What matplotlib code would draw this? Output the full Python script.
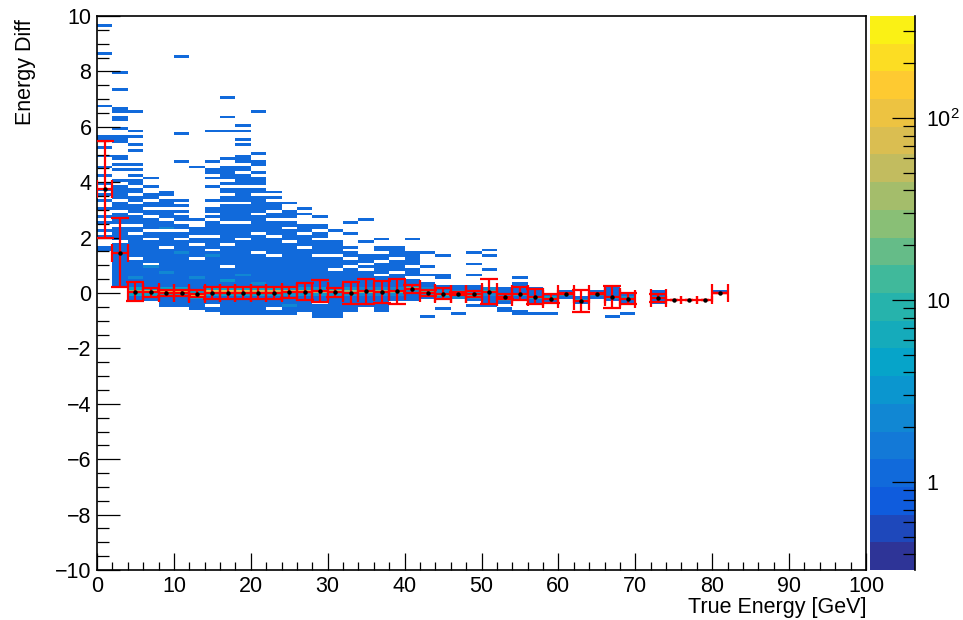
import matplotlib.pyplot as plt
import numpy as np
from matplotlib.colors import LinearSegmentedColormap, ListedColormap, BoundaryNorm
from matplotlib.ticker import MultipleLocator, FixedLocator, LogLocator, NullFormatter

plt.rcParams['font.family'] = ['Liberation Sans', 'DejaVu Sans']
plt.rcParams['mathtext.fontset'] = 'custom'
plt.rcParams['mathtext.rm'] = 'Liberation Sans'
plt.rcParams['mathtext.it'] = 'Liberation Sans:italic'

# histogram binning
n_xbins, x_lo, x_hi = 50, 0.0, 100.0
n_ybins, y_lo, y_hi = 200, -10.0, 10.0
z_min, z_max = 0.328, 363.0
n_contours = 20

# densely filled band (single entries) in each true-energy bin
band_bottom = [np.nan, 0.2, -0.25, -0.3, -0.45, -0.5, -0.6, -0.65, -0.8, -0.8,
               -0.8, -0.8, -0.75, -0.65, -0.9, -0.9, -0.65, -0.5, -0.65, -0.3,
               -0.3, -0.2, -0.2, -0.2, -0.3, -0.45, -0.4, -0.25, -0.35, -0.4,
               -0.1, -0.35, -0.1, -0.1, -0.35, np.nan, -0.35]
band_top = [np.nan, 4.0, 4.0, 3.5, 3.3, 2.75, 2.3, 3.0, 4.3, 4.9,
            4.1, 3.2, 2.9, 2.4, 2.4, 1.8, 1.45, 1.3, 1.6, 1.6,
            1.45, 0.35, 0.2, 0.25, 0.2, 0.05, 0.1, 0.3, 0.1, -0.05,
            0.05, -0.15, 0.05, 0.25, -0.05, np.nan, 0.0]

# empty rows inside the band: (true energy, energy diff)
gap_cells = [
    (3, 3.9), (3, 3.3), (3, 2.9), (3, 2.4), (3, 1.8),
    (5, 3.8), (5, 3.5), (5, 3.2), (5, 2.8), (5, 2.4), (5, 2.1), (5, 1.2),
    (7, 3.3), (7, 3.0), (7, 2.7), (7, 2.2), (7, 1.9), (7, 1.0),
    (9, 3.0), (9, 2.6), (9, 2.2), (9, 1.6),
    (11, 2.5), (11, 2.2), (11, 1.9), (11, 1.4),
    (13, 2.0), (13, 1.7), (13, 1.2),
    (15, 2.8), (15, 2.6), (15, 2.0), (15, 1.5), (15, -0.5),
    (17, 4.0), (17, 3.8), (17, 3.5), (17, 3.2), (17, 2.5), (17, 1.7), (17, 0.9),
    (19, 4.6), (19, 4.3), (19, 3.8), (19, 3.2), (19, 2.5), (19, 1.9),
    (21, 3.8), (21, 3.5), (21, 2.8), (21, 2.1), (21, 1.4),
    (23, 2.9), (23, 2.6), (23, 2.0), (23, 1.3), (23, -0.6),
    (25, 2.6), (25, 2.3), (25, 1.8),
    (27, 2.1), (27, 1.6),
    (29, 2.2), (29, 1.9), (29, 1.3), (29, -0.4),
    (31, 1.3), (31, 0.8),
    (33, 1.2), (33, 0.9),
    (35, 1.0), (35, 0.8),
    (37, 1.4), (37, 1.1), (37, 0.6),
    (39, 1.2), (39, 0.7),
    (41, 0.9), (41, 0.5),
]

# isolated single entries outside the band
stray_cells = [
    (1, 9.6), (1, 8.6), (1, 6.7), (1, 5.6), (1, 5.5), (1, 5.2), (1, 4.9), (1, 4.5),
    (1, 4.2), (1, 3.9), (1, 3.7), (1, 3.5), (1, 3.3), (1, 3.0), (1, 2.7), (1, 2.5),
    (1, 2.2), (1, 2.0), (1, 1.6), (1, 1.5),
    (3, 7.9), (3, 7.3), (3, 6.6), (3, 6.5), (3, 6.3), (3, 6.2), (3, 5.9), (3, 5.6),
    (3, 5.5), (3, 5.4), (3, 4.9), (3, 4.8), (3, 4.6), (3, 4.4),
    (5, 6.5), (5, 5.8), (5, 5.6), (5, 5.3), (5, 5.1), (5, 4.6), (5, 4.4), (5, 4.2),
    (7, 4.15), (7, 3.8), (9, 3.6), (9, 3.5),
    (11, 8.5), (11, 5.7), (11, 4.75), (11, 3.3), (11, 3.1), (11, 2.9),
    (13, 4.5), (13, 2.6),
    (15, 5.8), (15, 4.75), (15, 4.45), (15, 4.3), (15, 4.1), (15, 3.8), (15, 3.3),
    (17, 7.05), (17, 6.35), (17, 5.8), (17, 4.85), (17, 4.55), (17, 4.45),
    (19, 6.05), (19, 5.8), (19, 5.5), (19, 5.3),
    (21, 6.5), (21, 5.05), (21, 4.75), (21, 4.6), (21, 4.3),
    (23, 3.6), (23, 3.4), (25, 3.2), (27, 3.0), (27, 2.8), (29, 2.7), (31, 2.2),
    (33, 2.55), (33, 2.1), (33, 1.65), (35, 2.6), (35, 1.85), (37, 1.9),
    (41, 1.9), (41, 1.13),
    (43, 1.44), (43, 0.9), (43, 0.6), (43, -0.85),
    (45, 1.33), (45, 0.6), (45, 0.5), (45, -0.6), (47, -0.73),
    (49, 1.44), (49, 1.07), (49, 0.6), (49, -0.5),
    (51, 1.5), (51, 1.3), (51, 0.8),
    (53, -0.6), (53, -0.7), (55, 0.55), (55, -0.7), (55, -0.8),
    (57, -0.8), (59, -0.8), (67, -0.85), (69, -0.73),
]

# cells holding a few entries inside the band: (true energy, energy diff, entries)
multi_cells = [
    (5, 0.55, 2), (7, 0.95, 2), (9, 0.75, 2), (11, 1.45, 2), (13, 0.55, 2),
    (17, 0.45, 3), (21, 0.35, 2), (25, -0.45, 2), (9, 2.3, 2), (15, 1.3, 2),
    (19, 0.6, 2), (27, -0.3, 2),
]

# profile: mean energy diff per true-energy bin
prof_x = [1, 3, 5, 7, 9, 11, 13, 15, 17, 19, 21, 23, 25, 27, 29, 31, 33, 35, 37, 39,
          41, 43, 45, 47, 49, 51, 53, 55, 57, 59, 61, 63, 65, 67, 69, 73, 75, 77, 79, 81]
prof_y = [3.75, 1.45, 0.05, 0.02, 0.0, 0.0, -0.02, 0.0, 0.0, 0.0,
          0.0, 0.0, 0.02, 0.05, 0.07, 0.02, 0.0, 0.07, 0.05, 0.07,
          0.15, 0.0, -0.02, -0.02, -0.03, 0.05, -0.13, -0.02, -0.13, -0.2,
          -0.02, -0.28, -0.02, -0.13, -0.2, -0.18, -0.27, -0.27, -0.27, 0.0]
prof_err = [1.75, 1.25, 0.35, 0.15, 0.12, 0.12, 0.12, 0.2, 0.2, 0.2,
            0.2, 0.2, 0.2, 0.3, 0.4, 0.15, 0.4, 0.45, 0.4, 0.45,
            0.15, 0.12, 0.2, 0.05, 0.12, 0.45, 0.1, 0.25, 0.27, 0.15,
            0.02, 0.4, 0.02, 0.4, 0.2, 0.15, 0.0, 0.0, 0.0, 0.0]
# entries in the row of each profile mean and in the rows just next to it
peak_n = [1, 1, 30, 60, 80, 90, 90, 80, 80, 70, 60, 60, 50, 45, 40, 35, 30, 25, 22, 20,
          16, 14, 12, 12, 10, 8, 8, 6, 6, 5, 4, 4, 3, 3, 3, 2, 1, 1, 1, 1]
shoulder_n = [0, 0, 4, 5, 5, 5, 5, 4, 4, 4, 4, 4, 3, 3, 3, 3, 3, 2, 2, 2,
              2, 2, 2, 2, 2, 2, 2, 1, 1, 1, 1, 1, 1, 1, 1, 1, 0, 0, 0, 0]

# ROOT kBird palette
bird_r = [0.2082, 0.0592, 0.0780, 0.0232, 0.1802, 0.5301, 0.8186, 0.9956, 0.9764]
bird_g = [0.1664, 0.3599, 0.5041, 0.6419, 0.7178, 0.7492, 0.7328, 0.7862, 0.9832]
bird_b = [0.5293, 0.8684, 0.8385, 0.7914, 0.6425, 0.4662, 0.3499, 0.1968, 0.0539]

dy = (y_hi - y_lo) / n_ybins
dx = (x_hi - x_lo) / n_xbins


def xbin(x):
    return int((x - x_lo) // dx)


def ybin(y):
    return int(np.floor((y - y_lo) / dy + 1e-6))


counts = np.zeros((n_ybins, n_xbins))
for ix, (lo, hi) in enumerate(zip(band_bottom, band_top)):
    if np.isnan(lo):
        continue
    counts[ybin(lo):ybin(hi) + 1, ix] = 1
for x, y in gap_cells:
    counts[ybin(y), xbin(x)] = 0
for x, y in stray_cells:
    counts[ybin(y), xbin(x)] = 1
for x, y, n in multi_cells:
    counts[ybin(y), xbin(x)] = n
for x, y, n, s in zip(prof_x, prof_y, peak_n, shoulder_n):
    iy, ix = ybin(y), xbin(x)
    counts[iy, ix] = max(counts[iy, ix], n)
    for j in (iy - 1, iy + 1):
        if s:
            counts[j, ix] = max(counts[j, ix], s)

stops = np.linspace(0, 1, len(bird_r))
bird = LinearSegmentedColormap.from_list(
    'bird', [(s, (r, g, b)) for s, r, g, b in zip(stops, bird_r, bird_g, bird_b)])
levels = np.logspace(np.log10(z_min), np.log10(z_max), n_contours + 1)
band_cmap = ListedColormap(bird((np.arange(n_contours) + 0.5) / n_contours))
norm = BoundaryNorm(levels, n_contours)

fig = plt.figure(figsize=(9.63, 6.2), dpi=100)
ax = fig.add_axes([97 / 963, 50 / 620, 769 / 963, 554 / 620])

x_edges = np.linspace(x_lo, x_hi, n_xbins + 1)
y_edges = np.linspace(y_lo, y_hi, n_ybins + 1)
ax.pcolormesh(x_edges, y_edges, np.ma.masked_equal(counts, 0),
              cmap=band_cmap, norm=norm, zorder=1)

# profile overlay: full-width x bars, caps on both bars
px = np.array(prof_x, dtype=float)
py = np.array(prof_y)
pe = np.array(prof_err)
flat = np.isin(px, [75, 77, 79])
style = dict(fmt='o', color='red', ecolor='red', mfc='black', mec='black',
             ms=2.2, elinewidth=1.6, capthick=1.6, zorder=3)
ax.errorbar(px[~flat], py[~flat], xerr=1.0, yerr=pe[~flat], capsize=6.5, **style)
ax.errorbar(px[flat], py[flat], xerr=1.0, yerr=pe[flat], capsize=3.0, **style)

ax.set_xlim(x_lo, x_hi)
ax.set_ylim(y_lo, y_hi)
ax.xaxis.set_major_locator(MultipleLocator(10))
ax.xaxis.set_minor_locator(MultipleLocator(2))
ax.yaxis.set_major_locator(MultipleLocator(2))
ax.yaxis.set_minor_locator(MultipleLocator(0.5))
ax.tick_params(axis='x', which='major', direction='in', length=12, width=0.9,
               labelsize=15.5, pad=4, top=False)
ax.tick_params(axis='x', which='minor', direction='in', length=6, width=0.9, top=False)
ax.tick_params(axis='y', which='major', direction='in', length=16.5, width=0.9,
               labelsize=15.5, pad=4, right=False)
ax.tick_params(axis='y', which='minor', direction='in', length=8.3, width=0.9, right=False)
for sp in ax.spines.values():
    sp.set_linewidth(1.2)

fig.text(866 / 963, 1 - 607 / 620, 'True Energy [GeV]', ha='right', va='center',
         fontsize=15.5)
fig.text(26 / 963, 1 - 19 / 620, 'Energy Diff', ha='center', va='top',
         rotation=90, fontsize=15.5)

# palette axis
cax = fig.add_axes([870 / 963, 50 / 620, 45 / 963, 554 / 620])
cax.set_yscale('log')
cax.pcolormesh([0, 1], levels, (np.arange(n_contours) + 0.5).reshape(-1, 1),
               cmap=band_cmap, vmin=0, vmax=n_contours)
cax.set_ylim(z_min, z_max)
cax.set_xlim(0, 1)
cax.set_xticks([])
for side in ('top', 'left', 'bottom'):
    cax.spines[side].set_visible(False)
cax.spines['right'].set_linewidth(1.2)
cax.yaxis.tick_right()
cax.yaxis.set_major_locator(FixedLocator([1, 10, 100]))
cax.yaxis.set_minor_locator(LogLocator(base=10, subs=np.arange(2, 10)))
cax.yaxis.set_minor_formatter(NullFormatter())
cax.set_yticklabels(['1', '10', r'$10^{2}$'])
cax.tick_params(axis='y', which='major', direction='in', length=16.5, width=0.9,
                labelsize=15.5, pad=8, left=False, right=True)
cax.tick_params(axis='y', which='minor', direction='in', length=8.3, width=0.9,
                left=False, right=True)

fig.savefig('out.png', dpi=100)
